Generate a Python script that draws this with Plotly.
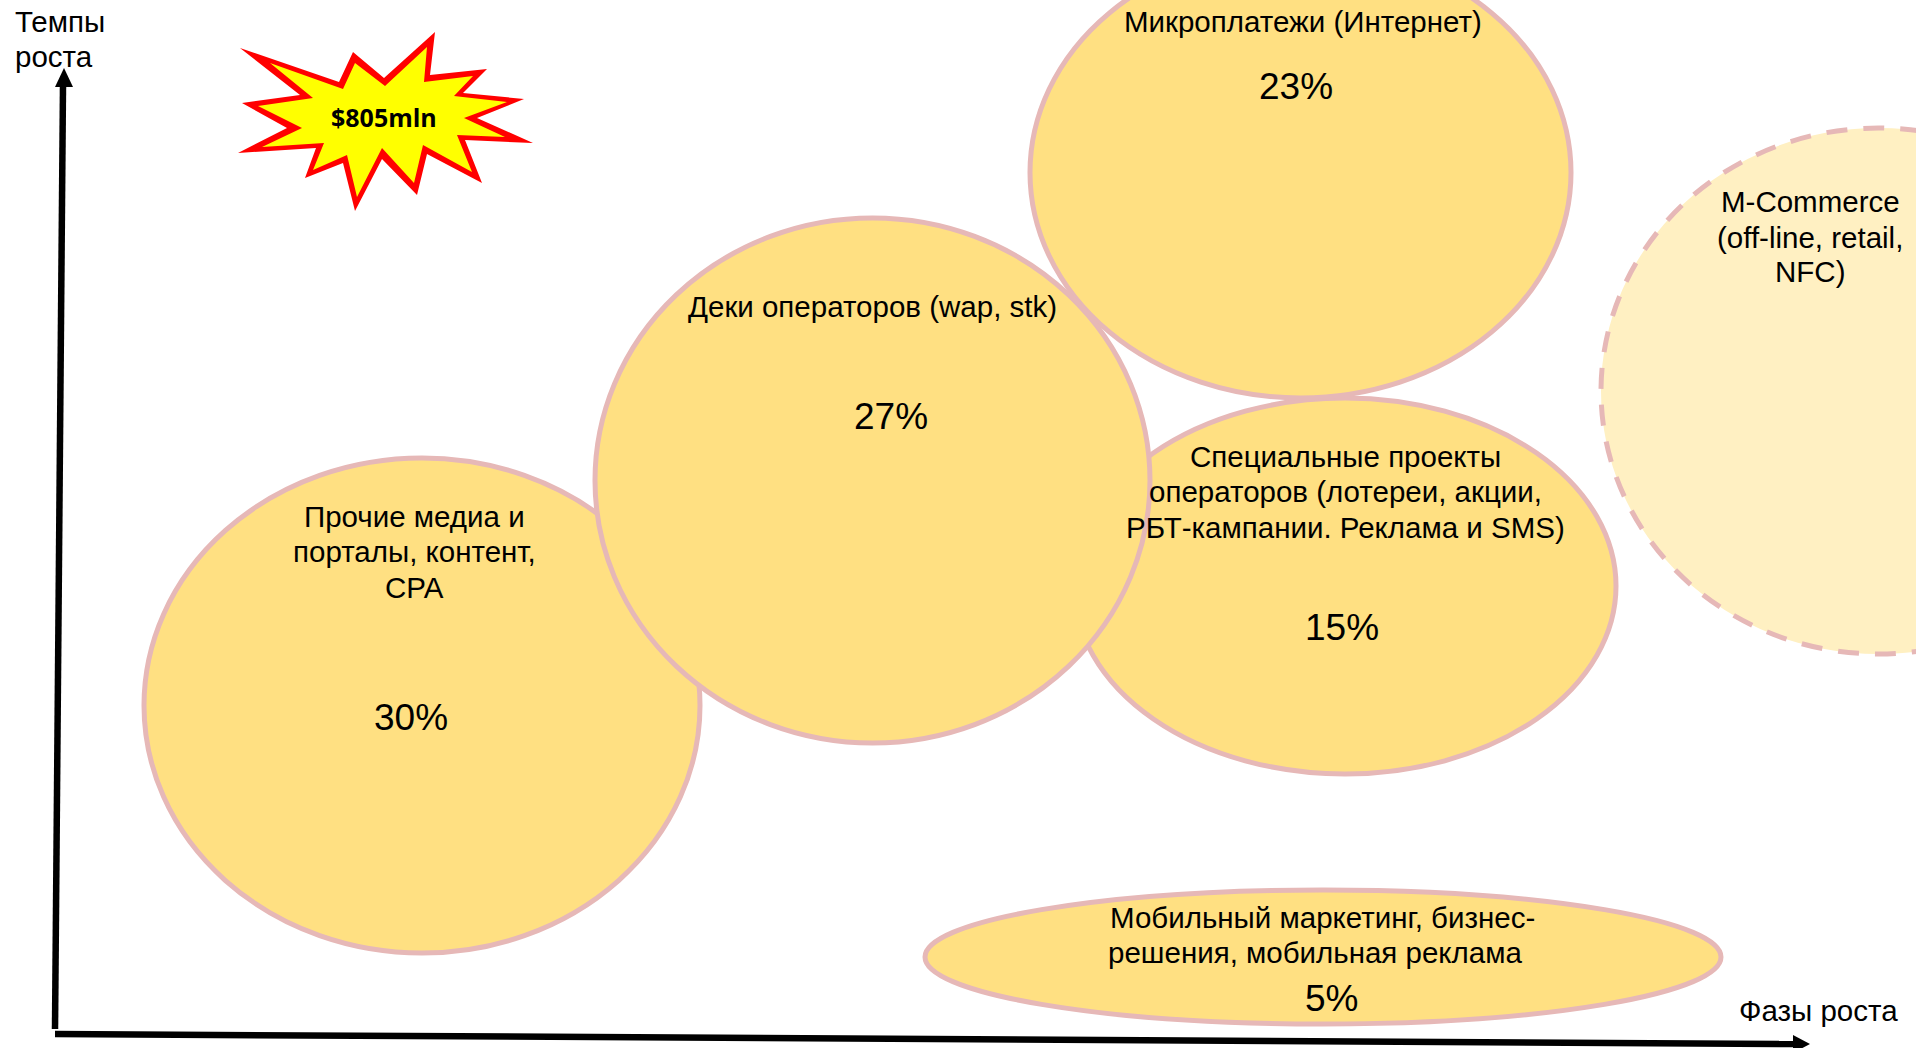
import plotly.graph_objects as go

# Bubble diagram: name, share and ellipse extents (in picture units)
bubble_names = ["Прочие медиа", "Специальные проекты", "Микроплатежи", "Деки операторов", "Мобильный маркетинг", "M-Commerce"]
bubble_x0 = [144, 1074, 1030, 595, 925, 1601]
bubble_x1 = [700, 1616, 1571, 1150, 1721, 2156]
bubble_y0 = [458, 398, -53, 218, 890, 128]
bubble_y1 = [953, 774, 398, 743, 1024, 654]
bubble_fill = ["#FFE082", "#FFE082", "#FFE082", "#FFE082", "#FFE082", "#FFF0C2"]
bubble_dash = ["solid", "solid", "solid", "solid", "solid", "21px,16px"]

label_text = [
    "Темпы", "роста", "Фазы роста",
    "Микроплатежи (Интернет)", "Деки операторов (wap, stk)",
    "Прочие медиа и", "порталы, контент,", "CPA",
    "Специальные проекты", "операторов (лотереи, акции,", "РБТ-кампании. Реклама и SMS)",
    "M-Commerce", "(off-line, retail,", "NFC)",
    "Мобильный маркетинг, бизнес-", "решения, мобильная реклама",
]
label_x = [13, 13, 1818, 1303, 872, 414, 414, 414, 1345, 1345, 1345, 1810, 1810, 1810, 1322, 1315]
label_y = [21, 56, 1010, 21, 306, 516, 551, 587, 456, 491, 527, 201, 237, 271, 917, 952]

pct_text = ["23%", "27%", "30%", "15%", "5%"]
pct_x = [1296, 891, 411, 1342, 1331]
pct_y = [86, 416, 717, 627, 998]

star_outer_x = [240, 339, 353, 384, 435, 430, 487, 463, 524, 477, 533, 465, 482, 427, 417, 382, 355, 343, 305, 316, 238, 287, 242, 300]
star_outer_y = [48, 82, 52, 78, 32, 75, 69, 93, 99, 118, 143, 140, 183, 154, 195, 159, 211, 163, 178, 148, 153, 128, 103, 95]
star_inner_x = [270, 343, 355, 385, 427, 424, 473, 454, 507, 464, 505, 457, 472, 423, 414, 382, 357, 347, 313, 324, 262, 302, 258, 313]
star_inner_y = [63, 89, 63, 86, 47, 82, 76, 96, 102, 118, 137, 135, 172, 145, 183, 148, 197, 155, 170, 143, 147, 128, 106, 98]


def poly(xs, ys):
    return "M " + " L ".join(f"{x},{y}" for x, y in zip(xs, ys)) + " Z"


shapes = []
for x0, x1, y0, y1, fill, dash in zip(bubble_x0, bubble_x1, bubble_y0, bubble_y1, bubble_fill, bubble_dash):
    shapes.append(dict(type="circle", xref="x", yref="y", x0=x0, x1=x1, y0=y0, y1=y1,
                       fillcolor=fill, line=dict(color="#E6B8B7", width=5, dash=dash), layer="above"))

# axes arrows
shapes += [
    dict(type="rect", xref="x", yref="y", x0=1916, x1=1921, y0=0, y1=1048, fillcolor="white", line=dict(width=0), layer="above"),
    dict(type="line", xref="x", yref="y", x0=55, y0=1029, x1=63, y1=85, line=dict(color="black", width=6.5), layer="above"),
    dict(type="path", xref="x", yref="y", path=poly([64, 55, 73], [68, 87, 87]), fillcolor="black", line=dict(width=0), layer="above"),
    dict(type="line", xref="x", yref="y", x0=55, y0=1034, x1=1795, y1=1044, line=dict(color="black", width=6.5), layer="above"),
    dict(type="path", xref="x", yref="y", path=poly([1810, 1793, 1793], [1044, 1035, 1053]), fillcolor="black", line=dict(width=0), layer="above"),
    dict(type="path", xref="x", yref="y", path=poly(star_outer_x, star_outer_y), fillcolor="#FF0000", line=dict(width=0), layer="above"),
    dict(type="path", xref="x", yref="y", path=poly(star_inner_x, star_inner_y), fillcolor="#FFFF00", line=dict(width=0), layer="above"),
]

annotations = []
for t, x, y in zip(label_text, label_x, label_y):
    annotations.append(dict(text=t, x=x, y=y, xref="x", yref="y", showarrow=False,
                            xanchor="left" if t in ("Темпы", "роста") else "center", yanchor="middle",
                            font=dict(family="Liberation Sans", size=29.5, color="black")))
for t, x, y in zip(pct_text, pct_x, pct_y):
    annotations.append(dict(text=t, x=x, y=y, xref="x", yref="y", showarrow=False,
                            xanchor="center", yanchor="middle",
                            font=dict(family="Liberation Sans", size=37, color="black")))
annotations.append(dict(text="<b>$805mln</b>", x=384, y=117, xref="x", yref="y", showarrow=False,
                        xanchor="center", yanchor="middle",
                        font=dict(family="Open Sans", size=25, color="black")))

fig = go.Figure()
fig.update_layout(
    width=1921, height=1048, margin=dict(l=0, r=0, t=0, b=0),
    paper_bgcolor="white", plot_bgcolor="white", showlegend=False,
    xaxis=dict(range=[0, 1921], visible=False, fixedrange=True),
    yaxis=dict(range=[1048, 0], visible=False, fixedrange=True),
    shapes=shapes, annotations=annotations,
)
fig.write_html("out.html", config=dict(displayModeBar=False),
               post_script="document.body.style.margin='0';document.body.style.overflow='hidden';")
